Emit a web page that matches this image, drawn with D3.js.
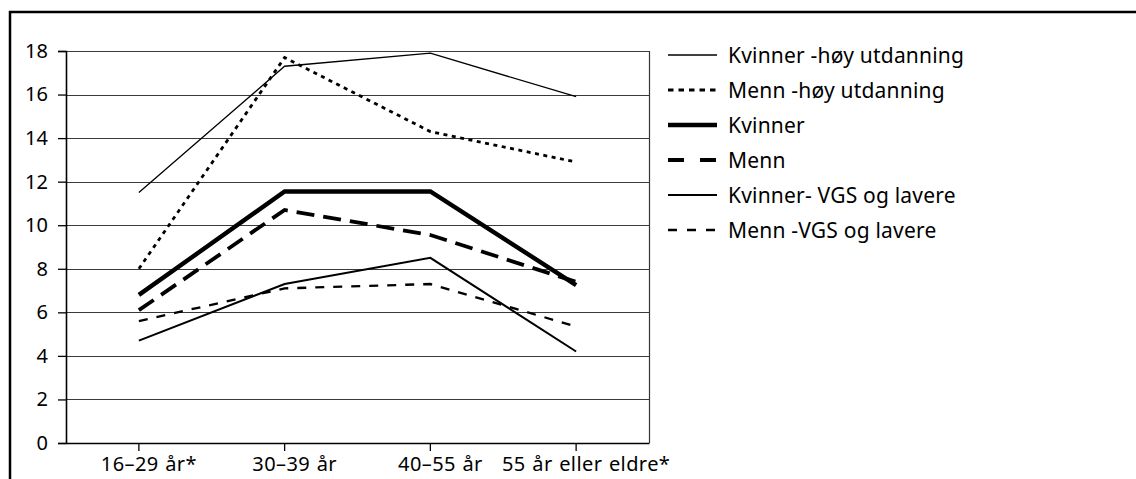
<!DOCTYPE html>
<html>
<head>
<meta charset="utf-8">
<script src="https://cdn.jsdelivr.net/npm/d3@7"></script>
<style>
  html, body { margin: 0; padding: 0; background: #fff; }
  svg { display: block; font-family: "Noto Sans", "Open Sans", sans-serif; }
</style>
</head>
<body>
<svg id="chart" width="1136" height="479"></svg>
<script>
// Age groups on the x axis
const categories = ["16–29 år*", "30–39 år", "40–55 år", "55 år eller eldre*"];
const yTicks = [0, 2, 4, 6, 8, 10, 12, 14, 16, 18];

// Series values per age group
const kvinnerHoy = [11.5, 17.3, 17.9, 15.9];
const mennHoy    = [8.0, 17.7, 14.3, 12.9];
const kvinner    = [6.8, 11.55, 11.55, 7.25];
const menn       = [6.1, 10.7, 9.55, 7.4];
const kvinnerVgs = [4.7, 7.3, 8.5, 4.2];
const mennVgs    = [5.6, 7.1, 7.3, 5.35];

const seriesNames = [
  "Kvinner -høy utdanning",
  "Menn -høy utdanning",
  "Kvinner",
  "Menn",
  "Kvinner- VGS og lavere",
  "Menn -VGS og lavere"
];
const seriesValues = [kvinnerHoy, mennHoy, kvinner, menn, kvinnerVgs, mennVgs];

// Line styles for each series
const styles = [
  { width: 1.3, dash: null },
  { width: 2.8, dash: "4,4.5" },
  { width: 4.4, dash: null },
  { width: 3.8, dash: "18,9" },
  { width: 2,   dash: null },
  { width: 2.3, dash: "9,9" }
];
// Dash patterns for the short legend samples
const legendDash = [null, "5.5,5", null, "16,16", null, "9,10"];

const series = seriesNames.map((name, i) => ({
  name, values: seriesValues[i], style: styles[i], legendDash: legendDash[i]
}));

const FONT = '"Noto Sans", "Open Sans", sans-serif';
const svg = d3.select("#chart");

// Outer frame (open on right and bottom)
svg.append("path")
  .attr("d", "M10,479 L10,12 L1136,12")
  .attr("fill", "none")
  .attr("stroke", "#000")
  .attr("stroke-width", 2.5);

const plot = { left: 66, right: 649, top: 51, bottom: 443 };

const x = d3.scaleBand().domain(categories).range([plot.left, plot.right]);
const y = d3.scaleLinear().domain([0, 18]).range([plot.bottom, plot.top]);

// Horizontal gridlines
svg.append("g")
  .selectAll("line")
  .data(yTicks.filter(d => d > 0))
  .join("line")
  .attr("x1", plot.left).attr("x2", plot.right)
  .attr("y1", d => Math.round(y(d)) + 0.5).attr("y2", d => Math.round(y(d)) + 0.5)
  .attr("stroke", "#3a3a3a")
  .attr("stroke-width", 1.2);

// Right border of the plot area
svg.append("line")
  .attr("x1", plot.right + 0.5).attr("x2", plot.right + 0.5)
  .attr("y1", plot.top).attr("y2", plot.bottom)
  .attr("stroke", "#333").attr("stroke-width", 1.2);

// Y axis
const yAxis = svg.append("g")
  .attr("transform", `translate(${plot.left},0)`)
  .call(d3.axisLeft(y).tickValues(yTicks).tickSize(8).tickPadding(10));
yAxis.attr("font-family", FONT).attr("font-size", 20);
yAxis.select(".domain").attr("stroke", "#000").attr("stroke-width", 1.6);
yAxis.selectAll(".tick line").attr("stroke", "#000").attr("stroke-width", 1.3);
yAxis.selectAll("text").attr("fill", "#000");

// X axis
const xAxis = svg.append("g")
  .attr("transform", `translate(0,${plot.bottom})`)
  .call(d3.axisBottom(x).tickSize(8).tickSizeOuter(0).tickPadding(6));
xAxis.attr("font-family", FONT).attr("font-size", 20);
xAxis.select(".domain").attr("stroke", "#000").attr("stroke-width", 1.6);
xAxis.selectAll(".tick line").attr("stroke", "#000").attr("stroke-width", 1.3);
xAxis.selectAll("text")
  .attr("fill", "#000")
  .attr("dx", 10)
  .attr("letter-spacing", 0.4)
  .attr("word-spacing", 1);

// Series lines
const line = d3.line()
  .x((d, i) => x(categories[i]) + x.bandwidth() / 2)
  .y(d => y(d));

svg.append("g")
  .selectAll("path")
  .data(series)
  .join("path")
  .attr("d", d => line(d.values))
  .attr("fill", "none")
  .attr("stroke", "#000")
  .attr("stroke-width", d => d.style.width)
  .attr("stroke-dasharray", d => d.style.dash)
  .attr("stroke-linejoin", "miter");

// Legend
const legend = svg.append("g").attr("transform", "translate(668,55)");
const rows = legend.selectAll("g")
  .data(series)
  .join("g")
  .attr("transform", (d, i) => `translate(0,${i * 35})`);
rows.append("line")
  .attr("x1", 0).attr("x2", 49)
  .attr("y1", 0).attr("y2", 0)
  .attr("stroke", "#000")
  .attr("stroke-width", d => d.style.width)
  .attr("stroke-dasharray", d => d.legendDash);
rows.append("text")
  .attr("x", 60).attr("y", 0)
  .attr("dy", "0.36em")
  .attr("font-family", FONT)
  .attr("font-size", 21)
  .attr("letter-spacing", 0.2)
  .attr("fill", "#000")
  .text(d => d.name);
</script>
</body>
</html>
